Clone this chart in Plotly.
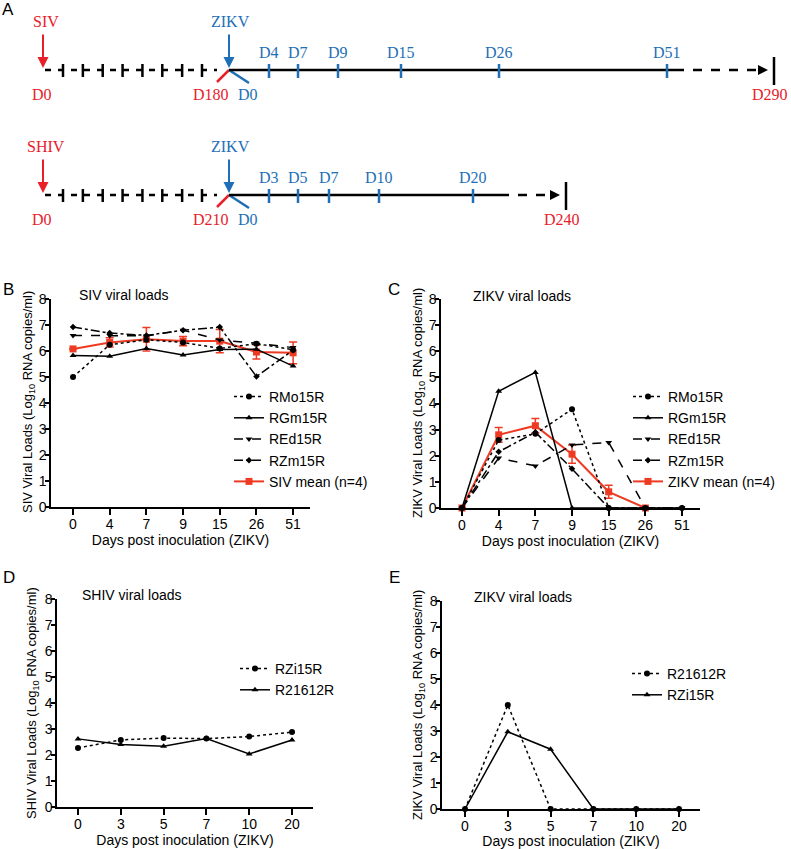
import plotly.graph_objects as go

# ---------------- data ----------------
# Panel B: SIV viral loads
siv_days = ["0", "4", "7", "9", "15", "26", "51"]
siv_rmo15r = [5.00, 6.24, 6.43, 6.33, 6.10, 6.28, 6.05]
siv_rgm15r = [5.83, 5.80, 6.10, 5.85, 6.06, 6.07, 5.42]
siv_red15r = [6.60, 6.60, 6.58, 6.80, 6.42, 6.30, 6.13]
siv_rzm15r = [6.92, 6.69, 6.60, 6.80, 6.92, 5.02, 6.03]
siv_mean = [6.08, 6.33, 6.45, 6.38, 6.38, 5.96, 5.93]
siv_mean_err = [None, 0.18, 0.45, 0.18, 0.45, 0.27, 0.42]

# Panel C: ZIKV viral loads (SIV animals)
zikv_days = ["0", "4", "7", "9", "15", "26", "51"]
zikv_rmo15r = [0, 2.60, 2.84, 3.78, 0, 0, 0]
zikv_rgm15r = [0, 4.47, 5.19, 0, 0, 0, 0]
zikv_red15r = [0, 1.91, 1.61, 2.41, 2.51, 0, 0]
zikv_rzm15r = [0, 2.15, 2.90, 1.50, 0, 0, 0]
zikv_mean = [0, 2.80, 3.15, 2.06, 0.62, 0, None]
zikv_mean_err = [None, 0.28, 0.28, 0.35, 0.25, None, None]

# Panel D: SHIV viral loads
shiv_days = ["0", "3", "5", "7", "10", "20"]
shiv_rzi15r = [2.27, 2.58, 2.65, 2.63, 2.71, 2.88]
shiv_r21612r = [2.62, 2.40, 2.34, 2.63, 2.04, 2.58]

# Panel E: ZIKV viral loads (SHIV animals)
zikv2_days = ["0", "3", "5", "7", "10", "20"]
zikv2_r21612r = [0, 4.00, 0, 0, 0, 0]
zikv2_rzi15r = [0, 2.97, 2.30, 0, 0, 0]

# Panel A: timelines (schematic)
siv_tl_labels = ["D4", "D7", "D9", "D15", "D26", "D51"]
shiv_tl_labels = ["D3", "D5", "D7", "D10", "D20"]

# ---------------- style ----------------
W, H = 791, 849
SANS = "Liberation Sans, Arial, sans-serif"
SERIF = "Liberation Serif, Times New Roman, serif"
RED = "#EE3A23"
TRED = "#E8202A"
TBLUE = "#1E6FB6"
BLK = "black"


def px_x(p):
    return p / W


def px_y(p):
    return 1 - p / H


fig = go.Figure()


def add_series(x, y, name, dash, symbol, xa, ya, legend, rank, color=BLK, width=1.5,
               msize=6, err=None):
    tr = dict(x=x, y=y, name=name, mode="lines+markers",
              line=dict(color=color, width=width, dash=dash),
              marker=dict(symbol=symbol, size=msize, color=color),
              xaxis=xa, yaxis=ya, legend=legend, legendrank=rank, cliponaxis=False,
              hoverinfo="skip")
    if err is not None:
        tr["error_y"] = dict(type="data", array=err, visible=True, color=color,
                             thickness=1.5, width=4)
    fig.add_trace(go.Scatter(**tr))


# B
add_series(siv_days, siv_mean, "SIV mean (n=4)", "solid", "square", "x", "y", "legend", 5,
           color=RED, width=2, msize=7, err=siv_mean_err)
add_series(siv_days, siv_rmo15r, "RMo15R", "dot", "circle", "x", "y", "legend", 1)
add_series(siv_days, siv_rgm15r, "RGm15R", "solid", "triangle-up", "x", "y", "legend", 2)
add_series(siv_days, siv_red15r, "REd15R", "dash", "triangle-down", "x", "y", "legend", 3)
add_series(siv_days, siv_rzm15r, "RZm15R", "dashdot", "diamond", "x", "y", "legend", 4, msize=5)

# C
add_series(zikv_days, zikv_mean, "ZIKV mean (n=4)", "solid", "square", "x2", "y2", "legend2", 5,
           color=RED, width=2, msize=7, err=zikv_mean_err)
add_series(zikv_days, zikv_rmo15r, "RMo15R", "dot", "circle", "x2", "y2", "legend2", 1)
add_series(zikv_days, zikv_rgm15r, "RGm15R", "solid", "triangle-up", "x2", "y2", "legend2", 2)
add_series(zikv_days, zikv_red15r, "REd15R", "dash", "triangle-down", "x2", "y2", "legend2", 3)
add_series(zikv_days, zikv_rzm15r, "RZm15R", "dashdot", "diamond", "x2", "y2", "legend2", 4, msize=5)

# D
add_series(shiv_days, shiv_rzi15r, "RZi15R", "dot", "circle", "x3", "y3", "legend3", 1)
add_series(shiv_days, shiv_r21612r, "R21612R", "solid", "triangle-up", "x3", "y3", "legend3", 2)

# E
add_series(zikv2_days, zikv2_r21612r, "R21612R", "dot", "circle", "x4", "y4", "legend4", 1)
add_series(zikv2_days, zikv2_rzi15r, "RZi15R", "solid", "triangle-up", "x4", "y4", "legend4", 2)

# dummy trace for schematic axis
fig.add_trace(go.Scatter(x=[None], y=[None], xaxis="x5", yaxis="y5", showlegend=False,
                         hoverinfo="skip"))


def xaxis_cfg(dom, rng, anchor):
    return dict(domain=dom, type="category", range=rng, anchor=anchor, automargin=False,
                showline=True, linewidth=1.5, linecolor=BLK, ticks="outside",
                ticklen=6, tickwidth=1.5, tickcolor=BLK, showgrid=False, zeroline=False,
                ticklabelstandoff=-3,
                tickfont=dict(family=SANS, size=14, color=BLK),
                title=dict(text="Days post inoculation (ZIKV)", standoff=4,
                           font=dict(family=SANS, size=14, color=BLK)))


def yaxis_cfg(dom, anchor):
    return dict(domain=dom, range=[0, 8], anchor=anchor, tickvals=list(range(9)),
                automargin=False,
                showline=True, linewidth=1.5, linecolor=BLK, ticks="outside",
                ticklen=4, tickwidth=1.5, tickcolor=BLK, showgrid=False, zeroline=False,
                ticklabelstandoff=-4,
                tickfont=dict(family=SANS, size=14, color=BLK))


ytitle = " Viral Loads (Log<sub>10</sub> RNA copies/ml)"

legend_common = dict(font=dict(family=SANS, size=14, color=BLK), bgcolor="rgba(0,0,0,0)",
                     xanchor="left", yanchor="top", tracegroupgap=0, itemwidth=30,
                     traceorder="normal", borderwidth=0)

fig.update_layout(
    width=W, height=H, margin=dict(l=0, r=0, t=0, b=0, pad=0, autoexpand=False),
    paper_bgcolor="white", plot_bgcolor="rgba(0,0,0,0)",
    font=dict(family=SANS, color=BLK),
    xaxis=xaxis_cfg([px_x(51), px_x(310)], [-0.6, 6.46], "y"),
    yaxis=yaxis_cfg([px_y(507), px_y(299)], "x"),
    xaxis2=xaxis_cfg([px_x(441), px_x(700)], [-0.573, 6.49], "y2"),
    yaxis2=yaxis_cfg([px_y(508), px_y(299)], "x2"),
    xaxis3=xaxis_cfg([px_x(57), px_x(313)], [-0.49, 5.49], "y3"),
    yaxis3=yaxis_cfg([px_y(807), px_y(599)], "x3"),
    xaxis4=xaxis_cfg([px_x(442), px_x(700)], [-0.537, 5.49], "y4"),
    yaxis4=yaxis_cfg([px_y(809), px_y(601)], "x4"),
    xaxis5=dict(domain=[0, 1], range=[0, W], visible=False, anchor="y5",
                fixedrange=True, automargin=False),
    yaxis5=dict(domain=[0, 1], range=[H, 0], visible=False, anchor="x5",
                fixedrange=True, automargin=False),
    legend=dict(legend_common, x=px_x(229), y=px_y(381)),
    legend2=dict(legend_common, x=px_x(628), y=px_y(381)),
    legend3=dict(legend_common, x=px_x(235), y=px_y(653)),
    legend4=dict(legend_common, x=px_x(627), y=px_y(658)),
)

shapes = []
annotations = []


def line(x0, y0, x1, y1, color=BLK, width=2.5, dash="solid"):
    shapes.append(dict(type="line", xref="x5", yref="y5", x0=x0, y0=y0, x1=x1, y1=y1,
                       line=dict(color=color, width=width, dash=dash)))


def text(x, y, s, color, size=16, family=SERIF, xanchor="center", yanchor="middle", angle=0):
    annotations.append(dict(xref="x5", yref="y5", x=x, y=y, text=s, showarrow=False,
                            font=dict(family=family, size=size, color=color),
                            xanchor=xanchor, yanchor=yanchor, textangle=angle))


def arrow(x, y0, y1, color):
    annotations.append(dict(xref="x5", yref="y5", axref="x5", ayref="y5", x=x, y=y1,
                            ax=x, ay=y0, text="", showarrow=True, arrowhead=2,
                            arrowsize=1.1, arrowwidth=2, arrowcolor=color))


def timeline(yl, virus, start_lbl, tick_lbls, tick_pos, solid_end, dash_end, bar_x, end_lbl):
    x_start, x_z = 45, 229
    # pre-ZIKV dashed segment with vertical ticks
    line(x_start, yl, x_z - 12, yl, dash="6px,7px")
    n = 8
    for i in range(n):
        xt = 63 + i * (202 - 63) / (n - 1)
        line(xt, yl - 6, xt, yl + 7)
    # D180 / D0 diagonals
    line(x_z - 12, yl + 12, x_z, yl, color=TRED)
    line(x_z, yl, x_z + 20, yl + 13, color=TBLUE)
    # solid segment then dashed arrow
    line(x_z, yl, solid_end, yl)
    line(solid_end, yl, dash_end - 8, yl, dash="dash")
    annotations.append(dict(xref="x5", yref="y5", axref="x5", ayref="y5", x=dash_end, y=yl,
                            ax=dash_end - 10, ay=yl, text="", showarrow=True, arrowhead=2,
                            arrowsize=1, arrowwidth=2, arrowcolor=BLK))
    line(bar_x, yl - 13, bar_x, yl + 15)
    # ticks + labels
    for lb, xp in zip(tick_lbls, tick_pos):
        line(xp, yl - 6, xp, yl + 8, color=TBLUE)
        text(xp, yl - 18, lb, TBLUE, size=16)
    text(46, yl - 49, virus, TRED, size=16)
    arrow(43, yl - 37, yl - 2, TRED)
    text(230, yl - 49, "ZIKV", TBLUE, size=16)
    arrow(229, yl - 37, yl - 2, TBLUE)
    text(42, yl + 24, "D0", TRED, size=16)
    text(211, yl + 24, start_lbl, TRED, size=16)
    text(248, yl + 24, "D0", TBLUE, size=16)
    text(bar_x - 4, yl + 24, end_lbl, TRED, size=16)


timeline(70, "SIV", "D180", siv_tl_labels, [269, 298, 338, 401, 499, 667], 675, 768, 774, "D290")
timeline(195, "SHIV", "D210", shiv_tl_labels, [269, 298, 329, 379, 473], 500, 560, 566, "D240")

# panel letters
for lbl, x, y in [("A", 8, 9), ("B", 8, 289), ("C", 394, 289), ("D", 9, 577), ("E", 394, 577)]:
    text(x, y, lbl, BLK, size=17, family=SANS)

# panel titles
for t, x, y in [("SIV viral loads", 77, 295), ("ZIKV viral loads", 471, 296),
                ("SHIV viral loads", 80, 595), ("ZIKV viral loads", 472, 597)]:
    text(x, y, t, BLK, size=14, family=SANS, xanchor="left")

# y-axis titles
for v, x, y in [("SIV", 28, 402), ("ZIKV", 418, 403), ("SHIV", 32, 703), ("ZIKV", 418, 705)]:
    text(x, y, v + ytitle, BLK, size=13, family=SANS, angle=-90)

fig.update_layout(shapes=shapes, annotations=annotations)

# remove the default page margin so the figure fills the window from its corner
fig.write_html("out.html", config={"displayModeBar": False},
               post_script="document.body.style.margin='0';")
